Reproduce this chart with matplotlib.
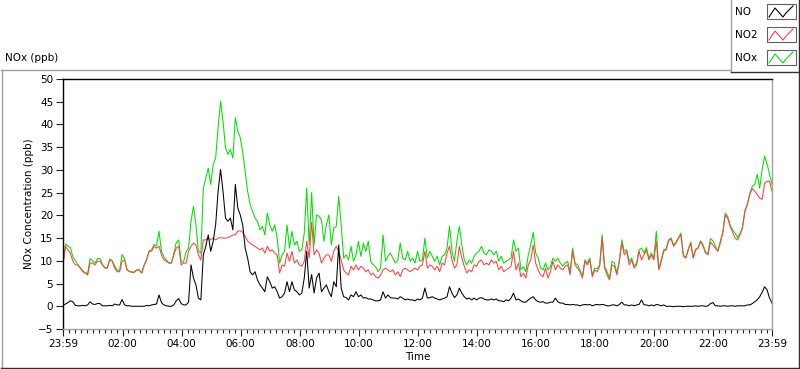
import matplotlib
matplotlib.use('Agg')
import matplotlib.pyplot as plt
from matplotlib.patches import Rectangle
import numpy as np

# 5-minute samples, starting at 23:59
no2 = [9.0, 13.2, 12.4, 11.7, 9.9, 9.1, 9.1, 8.4, 7.6, 7.3,
       6.9, 9.5, 9.5, 9.1, 9.9, 9.9, 9.1, 8.4, 8.4, 10.2,
       9.9, 8.4, 7.6, 7.6, 9.9, 10.2, 8.0, 7.6, 7.5, 7.5,
       8.0, 8.0, 7.3, 9.1, 10.2, 12.1, 12.1, 13.2, 12.8, 13.2,
       11.3, 10.2, 9.9, 9.5, 9.5, 11.3, 12.8, 13.2, 9.1, 9.5,
       9.5, 12.1, 13.2, 13.9, 13.5, 11.3, 10.2, 14.6, 14.6, 15.0,
       14.6, 15.0, 14.6, 15.0, 15.1, 15.0, 15.0, 15.1, 15.4, 15.7,
       15.7, 16.5, 16.6, 16.3, 15.4, 14.3, 13.9, 13.5, 13.2, 12.8,
       12.4, 12.8, 11.7, 13.2, 12.1, 12.4, 11.7, 11.3, 7.3, 9.1,
       8.8, 11.7, 9.9, 12.1, 9.5, 10.2, 9.1, 8.8, 9.9, 14.3,
       10.6, 18.5, 11.3, 12.4, 11.7, 9.5, 10.6, 11.3, 11.3, 9.9,
       12.1, 13.2, 12.1, 10.2, 8.0, 7.3, 6.9, 8.8, 8.0, 9.1,
       8.0, 8.8, 8.4, 7.6, 8.0, 6.9, 7.3, 6.5, 6.2, 6.9,
       8.0, 8.4, 8.0, 7.6, 8.0, 6.9, 7.6, 6.5, 8.0, 8.4,
       8.0, 7.6, 8.0, 8.4, 8.0, 8.8, 9.1, 12.1, 8.4, 9.1,
       8.8, 8.0, 8.8, 7.6, 9.5, 9.1, 11.7, 13.2, 10.2, 8.4,
       9.1, 13.2, 10.6, 8.8, 7.3, 8.0, 7.6, 9.1, 8.8, 9.9,
       10.2, 9.1, 9.5, 9.1, 10.2, 9.5, 9.9, 8.0, 8.8, 7.6,
       8.0, 8.4, 8.8, 12.1, 8.0, 9.5, 6.5, 7.3, 6.2, 9.1,
       10.2, 13.5, 9.5, 8.0, 6.9, 6.5, 8.4, 6.2, 7.6, 9.9,
       8.0, 9.1, 8.4, 8.0, 8.8, 9.1, 6.9, 12.1, 9.1, 8.4,
       7.6, 6.2, 9.9, 9.1, 10.2, 6.5, 8.0, 7.6, 8.8, 15.0,
       8.4, 6.9, 5.8, 9.1, 8.8, 6.9, 9.9, 13.9, 11.3, 12.1,
       9.1, 10.2, 8.4, 9.1, 12.1, 10.2, 11.3, 12.4, 10.2, 11.3,
       10.2, 14.3, 8.0, 9.9, 12.1, 12.4, 14.4, 14.9, 13.2, 13.9,
       15.0, 15.7, 11.0, 10.6, 12.4, 13.9, 10.6, 12.4, 12.8, 14.3,
       13.2, 11.7, 11.3, 14.1, 13.5, 12.8, 12.1, 13.9, 16.1, 20.1,
       19.4, 17.6, 16.3, 15.0, 14.6, 15.7, 17.2, 20.9, 22.4, 24.6,
       25.9, 25.3, 24.6, 23.8, 23.5, 27.1, 27.5, 27.5, 25.3]

no = [0.2, 0.5, 0.8, 1.2, 1.0, 0.2, 0.1, 0.1, 0.2, 0.1,
      0.3, 1.0, 0.5, 0.4, 0.6, 0.6, 0.1, 0.1, 0.1, 0.2,
      0.1, 0.5, 0.3, 0.3, 1.5, 0.3, 0.1, 0.1, 0.0, 0.0,
      0.0, 0.0, 0.0, 0.0, 0.2, 0.1, 0.3, 0.4, 0.5, 2.5,
      0.8, 0.3, 0.1, 0.0, 0.0, 0.3, 1.2, 1.7, 0.6, 0.3,
      0.3, 0.9, 9.1, 6.2, 4.7, 1.8, 1.4, 11.3, 13.2, 15.7,
      12.1, 14.3, 17.9, 25.3, 30.1, 25.3, 19.4, 18.7, 19.4, 16.8,
      26.8, 21.6, 20.1, 17.9, 12.8, 10.6, 7.6, 6.9, 7.6, 5.8,
      4.7, 4.0, 3.2, 6.5, 5.4, 4.0, 4.3, 3.2, 1.8, 2.1,
      2.9, 5.4, 3.2, 5.4, 3.6, 3.2, 2.5, 2.9, 6.2, 12.1,
      4.0, 7.0, 2.9, 6.2, 7.3, 3.2, 4.0, 4.7, 3.2, 2.1,
      5.4, 4.3, 13.5, 4.0, 2.1, 1.9, 1.4, 2.5, 2.1, 3.2,
      2.1, 2.5, 1.8, 1.9, 1.6, 1.6, 1.4, 1.2, 1.2, 1.4,
      3.2, 1.8, 2.5, 1.9, 1.8, 1.8, 1.6, 2.1, 1.8, 1.4,
      1.6, 1.4, 1.4, 1.2, 1.6, 1.4, 1.8, 4.0, 1.8, 1.9,
      2.1, 1.8, 1.6, 1.4, 1.6, 1.8, 2.1, 4.3, 2.9, 1.9,
      2.5, 4.0, 2.9, 2.1, 1.6, 1.8, 1.4, 1.8, 1.4, 1.8,
      1.9, 1.6, 1.4, 1.4, 1.6, 1.4, 1.6, 1.2, 1.2, 1.0,
      1.4, 1.2, 1.8, 2.9, 1.4, 1.6, 1.2, 0.9, 0.9, 1.4,
      1.8, 2.1, 1.4, 1.0, 0.9, 1.0, 0.7, 0.7, 0.9, 0.9,
      1.8, 1.0, 0.7, 0.7, 0.4, 0.4, 0.3, 0.4, 0.3, 0.3,
      0.1, 0.3, 0.4, 0.3, 0.4, 0.1, 0.3, 0.4, 0.3, 0.4,
      0.3, 0.1, 0.1, 0.3, 0.3, 0.1, 0.4, 0.9, 0.3, 0.3,
      0.1, 0.3, 0.1, 0.3, 0.4, 1.4, 0.3, 0.3, 0.1, 0.3,
      0.1, 0.4, 0.3, 0.1, 0.3, 0.0, 0.0, 0.0, -0.1, 0.0,
      0.0, 0.0, -0.1, 0.0, 0.0, 0.0, 0.0, 0.1, 0.0, 0.1,
      0.1, 0.0, 0.1, 0.6, 0.8, 0.1, 0.1, 0.0, 0.1, 0.1,
      0.0, 0.1, 0.1, 0.0, 0.1, 0.1, 0.1, 0.1, 0.3, 0.3,
      0.6, 1.0, 1.4, 2.1, 3.1, 4.3, 3.6, 1.8, 0.7]

nox = [9.2, 13.7, 13.2, 12.9, 10.9, 10.0, 9.2, 8.5, 7.8, 7.4,
       7.2, 10.5, 10.0, 9.5, 10.5, 10.5, 9.2, 8.5, 8.5, 10.4,
       10.0, 8.9, 7.9, 7.9, 11.4, 10.5, 8.1, 7.7, 7.5, 7.5,
       8.0, 8.0, 7.3, 9.1, 10.4, 12.2, 12.4, 13.6, 13.3, 16.5,
       12.1, 10.8, 10.2, 9.6, 9.5, 11.6, 14.0, 14.6, 9.7, 9.8,
       12.0, 12.8, 18.7, 22.0, 17.9, 12.1, 11.7, 26.0, 28.2, 30.4,
       26.8, 31.2, 32.6, 39.3, 45.1, 40.7, 34.9, 33.4, 34.5, 32.6,
       41.5, 38.5, 37.1, 33.9, 29.7, 25.3, 22.4, 20.9, 19.4, 18.7,
       16.8, 17.6, 15.7, 20.5, 17.9, 16.5, 17.9, 15.0, 9.5, 11.3,
       12.1, 17.9, 12.8, 16.5, 13.5, 14.3, 12.1, 12.4, 16.1, 26.0,
       13.5, 25.0, 13.5, 20.1, 19.8, 19.0, 14.3, 17.9, 20.1, 13.5,
       17.2, 17.6, 24.2, 17.9, 10.6, 11.3, 10.2, 13.2, 9.9, 11.3,
       14.3, 11.0, 13.9, 12.1, 14.3, 9.9, 9.1, 8.7, 7.6, 8.4,
       15.7, 9.9, 11.0, 11.7, 10.6, 9.5, 10.2, 13.9, 10.6, 10.2,
       12.1, 9.9, 10.6, 9.5, 12.1, 9.9, 10.2, 15.0, 10.6, 12.1,
       11.0, 9.9, 11.0, 9.1, 11.0, 11.3, 12.8, 17.6, 12.1, 9.9,
       14.3, 17.6, 13.5, 10.2, 9.1, 10.2, 9.5, 11.0, 11.7, 12.1,
       13.2, 11.7, 11.3, 12.4, 12.1, 11.3, 12.1, 9.9, 11.0, 9.5,
       9.9, 10.2, 10.6, 14.6, 12.1, 12.8, 8.0, 8.7, 7.6, 11.3,
       13.5, 16.3, 11.7, 10.6, 8.4, 8.0, 9.5, 8.0, 8.8, 10.6,
       9.9, 10.6, 9.5, 8.8, 9.5, 9.9, 7.5, 12.8, 9.5, 9.1,
       8.0, 6.5, 10.2, 9.5, 10.6, 6.9, 8.4, 8.2, 9.1, 15.7,
       8.8, 7.6, 6.2, 9.9, 9.5, 7.3, 10.2, 14.6, 12.1, 12.4,
       9.9, 10.6, 8.8, 9.5, 12.4, 12.8, 11.7, 12.9, 10.6, 11.7,
       10.6, 16.5, 8.4, 10.2, 12.4, 12.6, 14.6, 15.0, 13.5, 14.1,
       15.1, 16.1, 11.3, 10.7, 12.6, 14.1, 10.7, 12.6, 12.9, 14.4,
       13.5, 11.9, 11.7, 14.9, 14.4, 13.2, 12.2, 14.3, 16.3, 20.5,
       19.8, 17.9, 16.8, 16.1, 15.1, 16.0, 17.4, 21.0, 22.5, 24.9,
       26.4, 26.8, 29.0, 26.0, 30.1, 33.0, 31.3, 29.0, 26.8]

step_min = 5
tick_labels = ['23:59', '02:00', '04:00', '06:00', '08:00', '10:00', '12:00',
               '14:00', '16:00', '18:00', '20:00', '22:00', '23:59']

c_no = 'black'
c_no2 = '#ff4040'
c_nox = '#00e000'

W, H = 800, 369
fig = plt.figure(figsize=(W / 100, H / 100), dpi=100)

# overlay in pixel coordinates for the panel frame, title and legend
ov = fig.add_axes([0, 0, 1, 1], zorder=0)
ov.set_xlim(0, W)
ov.set_ylim(H, 0)
ov.axis('off')

ov.plot([1, 730], [69.5, 69.5], color='#a0a0a0', lw=1)
ov.plot([1.5, 1.5], [69.5, 367], color='#a0a0a0', lw=1)
ov.plot([1, 798], [367.5, 367.5], color='#303030', lw=1)
ov.plot([798.5, 798.5], [72, 367.5], color='#303030', lw=1)
ov.text(5, 58, 'NOx (ppb)', fontsize=7.5, va='center', ha='left')

# legend box
ov.plot([730.5, 730.5], [0, 72], color='#a0a0a0', lw=1)
ov.plot([730.5, 798.5], [72, 72], color='#303030', lw=1)
ov.plot([798.5, 798.5], [0, 72], color='#303030', lw=1)
for k, (lab, col) in enumerate([('NO', c_no), ('NO2', c_no2), ('NOx', c_nox)]):
    y0 = 4 + k * 23
    ov.add_patch(Rectangle((767, y0), 29, 15, fill=False, ec='#606060', lw=0.8))
    ov.plot([769, 775, 783, 786, 793], [y0 + 13, y0 + 4, y0 + 13, y0 + 9, y0 + 2],
            color=col, lw=0.8)
    ov.text(735, y0 + 8, lab, fontsize=7.5, va='center', ha='left')

# main chart
ax = fig.add_axes([63 / W, 1 - 329 / H, 709 / W, 250 / H], zorder=1)
t = np.arange(len(no2)) * step_min / 60.0
ax.plot(t, nox, color=c_nox, lw=0.75)
ax.plot(t, no2, color=c_no2, lw=0.75)
ax.plot(t, no, color=c_no, lw=0.75)

ax.set_xlim(0, 24)
ax.set_ylim(-5, 50)
ax.set_yticks(np.arange(-5, 51, 5))
major = [0] + [2 * k + 1 / 60 for k in range(1, 12)] + [24]
ax.set_xticks(major)
ax.set_xticklabels(tick_labels)
ax.set_xticks([1 / 60 + 0.2 * k for k in range(120)], minor=True)
ax.tick_params(axis='both', labelsize=7.5, length=5, width=0.8, color='#202020', pad=2)
ax.tick_params(axis='x', which='minor', length=3, width=0.8, color='#202020')

for s in ['left', 'top']:
    ax.spines[s].set_color('black')
for s in ['right', 'bottom']:
    ax.spines[s].set_color('#a0a0a0')
for s in ax.spines.values():
    s.set_linewidth(1.0)

ax.set_ylabel('NOx Concentration (ppb)', fontsize=7.5, labelpad=3)
ax.set_xlabel('Time', fontsize=7.5, labelpad=2)

fig.savefig('out.png', dpi=100)
